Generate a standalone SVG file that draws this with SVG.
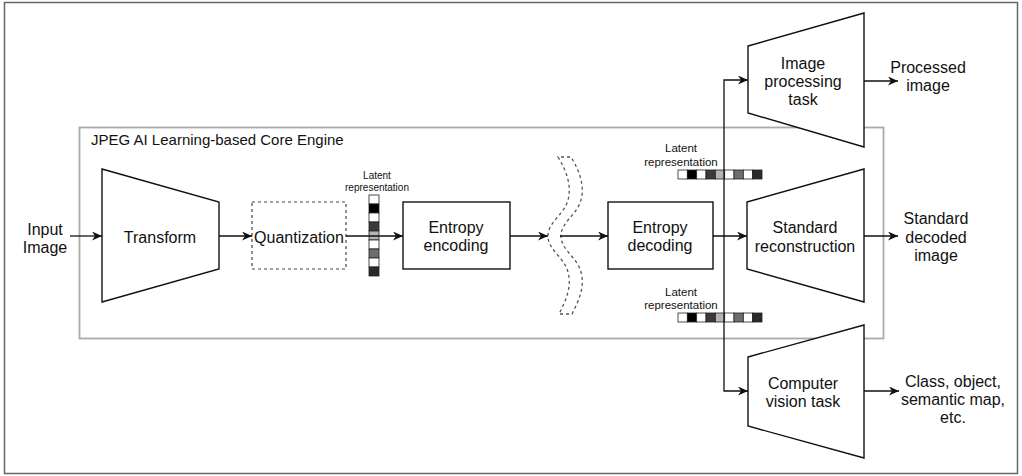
<svg xmlns="http://www.w3.org/2000/svg" width="1022" height="476" viewBox="0 0 1022 476">
<defs>
<style>
text{font-family:"Liberation Sans",Arial,sans-serif;fill:#111;text-anchor:middle}
.t{font-size:16px}
.ttl{font-size:15px;text-anchor:start}
.lat{font-size:11.5px}
.lats{font-size:10px}
.sh{fill:#fff;stroke:#111;stroke-width:1.4}
.c{fill:none;stroke:#111;stroke-width:1.3}
.ca{fill:none;stroke:#111;stroke-width:1.3;marker-end:url(#ah)}
.cell{stroke:#222;stroke-width:0.8}
</style>
<marker id="ah" markerUnits="userSpaceOnUse" markerWidth="11" markerHeight="9" refX="10" refY="4.5" orient="auto">
<path d="M0,0 L10,4.5 L0,9 L3,4.5 z" fill="#111"/>
</marker>
</defs>
<rect x="4.5" y="2.5" width="1013" height="471" fill="#fff" stroke="#666" stroke-width="1.5"/>
<g id="core-engine">
<rect x="79.5" y="127.5" width="804" height="211" fill="none" stroke="#aaa" stroke-width="1.8"/>
<text class="ttl" x="91" y="145">JPEG AI Learning-based Core Engine</text>
</g>
<g id="input">
<text class="t" x="45" y="234.5">Input</text>
<text class="t" x="45" y="252.5">Image</text>
</g>
<g id="transform">
<polygon class="sh" points="102,169 219,202 219,269 102,302"/>
<text class="t" x="160" y="243">Transform</text>
</g>
<g id="quantization">
<rect x="252" y="202" width="94" height="67" fill="#fff" stroke="#444" stroke-width="1.2" stroke-dasharray="3,3"/>
<text class="t" x="299" y="243">Quantization</text>
</g>
<g id="latent-enc">
<text class="lats" x="377" y="178.5">Latent</text>
<text class="lats" x="377" y="190.5">representation</text>
<rect class="cell" x="369" y="195" width="10" height="9" fill="#fff"/>
<rect class="cell" x="369" y="204" width="10" height="9" fill="#000"/>
<rect class="cell" x="369" y="213" width="10" height="9" fill="#fff"/>
<rect class="cell" x="369" y="222" width="10" height="9" fill="#3a3a3a"/>
<rect class="cell" x="369" y="231" width="10" height="9" fill="#b4b4b4"/>
<rect class="cell" x="369" y="240" width="10" height="9" fill="#fff"/>
<rect class="cell" x="369" y="249" width="10" height="9" fill="#6e6e6e"/>
<rect class="cell" x="369" y="258" width="10" height="9" fill="#fff"/>
<rect class="cell" x="369" y="267" width="10" height="9" fill="#2a2a2a"/>
</g>
<g id="entropy-encoding">
<rect class="sh" x="403" y="202" width="107" height="67"/>
<text class="t" x="456" y="233">Entropy</text>
<text class="t" x="456" y="251">encoding</text>
</g>
<g id="channel">
<path d="M558,157 C566,170 572,185 568,200 C564,215 548,222 548,236 C548,250 564,257 568,272 C572,287 566,300 559,314 L572,314 C579,300 585,287 581,272 C577,257 561,250 561,236 C561,222 577,215 581,200 C585,185 579,170 571,157 Z" fill="#fff" stroke="#555" stroke-width="1.3" stroke-dasharray="3,3"/>
</g>
<g id="entropy-decoding">
<rect class="sh" x="608" y="202" width="105" height="67"/>
<text class="t" x="660" y="233">Entropy</text>
<text class="t" x="660" y="251">decoding</text>
</g>
<g id="latent-dec-top">
<text class="lat" x="681" y="152">Latent</text>
<text class="lat" x="681" y="166">representation</text>
<rect class="cell" x="678" y="170" width="9.33" height="9" fill="#fff"/>
<rect class="cell" x="687.33" y="170" width="9.33" height="9" fill="#000"/>
<rect class="cell" x="696.67" y="170" width="9.33" height="9" fill="#fff"/>
<rect class="cell" x="706" y="170" width="9.33" height="9" fill="#3a3a3a"/>
<rect class="cell" x="715.33" y="170" width="9.33" height="9" fill="#b4b4b4"/>
<rect class="cell" x="724.67" y="170" width="9.33" height="9" fill="#fff"/>
<rect class="cell" x="734" y="170" width="9.33" height="9" fill="#6e6e6e"/>
<rect class="cell" x="743.33" y="170" width="9.33" height="9" fill="#fff"/>
<rect class="cell" x="752.67" y="170" width="9.33" height="9" fill="#2a2a2a"/>
</g>
<g id="latent-dec-bottom">
<text class="lat" x="681" y="296">Latent</text>
<text class="lat" x="681" y="309">representation</text>
<rect class="cell" x="678" y="313" width="9.33" height="9" fill="#fff"/>
<rect class="cell" x="687.33" y="313" width="9.33" height="9" fill="#000"/>
<rect class="cell" x="696.67" y="313" width="9.33" height="9" fill="#fff"/>
<rect class="cell" x="706" y="313" width="9.33" height="9" fill="#3a3a3a"/>
<rect class="cell" x="715.33" y="313" width="9.33" height="9" fill="#b4b4b4"/>
<rect class="cell" x="724.67" y="313" width="9.33" height="9" fill="#fff"/>
<rect class="cell" x="734" y="313" width="9.33" height="9" fill="#6e6e6e"/>
<rect class="cell" x="743.33" y="313" width="9.33" height="9" fill="#fff"/>
<rect class="cell" x="752.67" y="313" width="9.33" height="9" fill="#2a2a2a"/>
</g>
<g id="image-processing">
<polygon class="sh" points="748,46 864,13 864,147 748,113"/>
<text class="t" x="803" y="69">Image</text>
<text class="t" x="803" y="87">processing</text>
<text class="t" x="803" y="105">task</text>
</g>
<g id="standard-reconstruction">
<polygon class="sh" points="747,202 864,169 864,302 747,269"/>
<text class="t" x="805" y="233">Standard</text>
<text class="t" x="805" y="252">reconstruction</text>
</g>
<g id="computer-vision">
<polygon class="sh" points="748,357 864,325 864,458 748,426"/>
<text class="t" x="803" y="389">Computer</text>
<text class="t" x="803" y="407">vision task</text>
</g>
<g id="processed-image">
<text class="t" x="928" y="73">Processed</text>
<text class="t" x="928" y="91">image</text>
</g>
<g id="standard-decoded">
<text class="t" x="936" y="224">Standard</text>
<text class="t" x="936" y="243">decoded</text>
<text class="t" x="936" y="261">image</text>
</g>
<g id="cv-output">
<text class="t" x="953" y="387">Class, object,</text>
<text class="t" x="953" y="405">semantic map,</text>
<text class="t" x="953" y="423">etc.</text>
</g>
<g id="connectors">
<path class="ca" d="M70,236 L102,236"/>
<path class="ca" d="M219,236 L252,236"/>
<path class="ca" d="M346,236 L403,236"/>
<path class="ca" d="M510,236 L548,236"/>
<path class="ca" d="M560,236 L608,236"/>
<path class="ca" d="M713,236 L747,236"/>
<path class="ca" d="M724,236 L724,80 L748,80"/>
<path class="ca" d="M724,236 L724,391 L748,391"/>
<path class="ca" d="M864,81 L898,81"/>
<path class="ca" d="M864,236 L898,236"/>
<path class="ca" d="M864,391 L899,391"/>
</g>
</svg>
